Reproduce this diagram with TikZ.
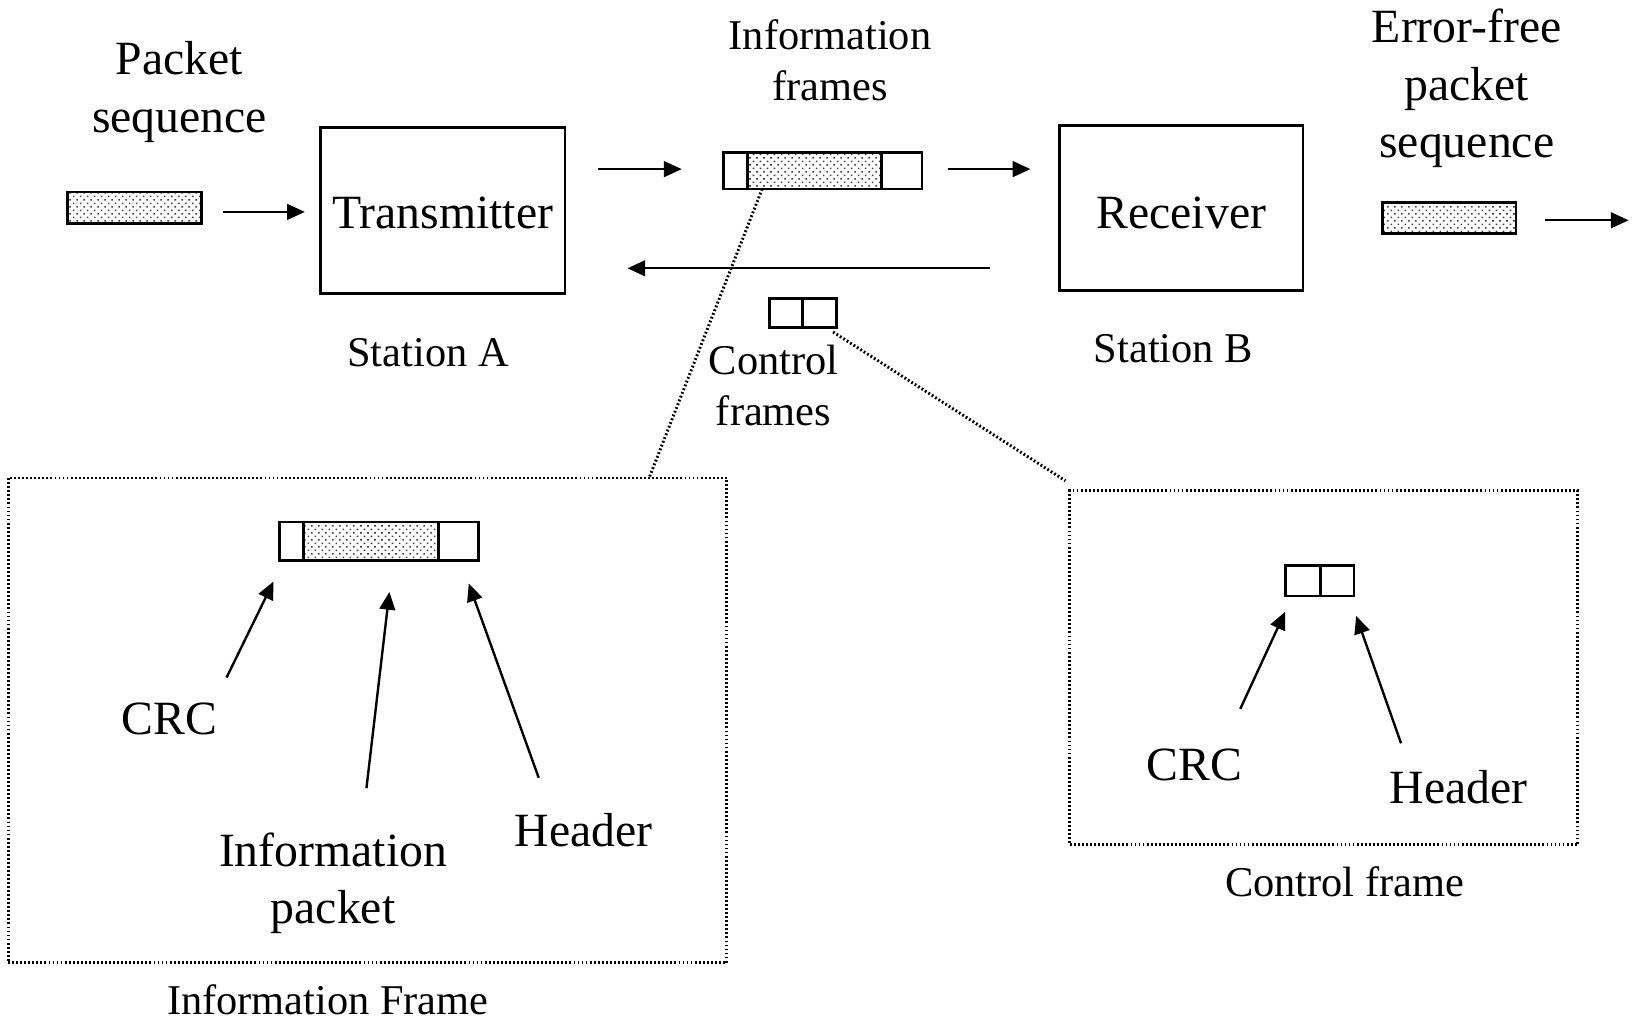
\documentclass[tikz,border=0pt]{standalone}
\usepackage{fontspec}
\setmainfont{Liberation Serif}
\usetikzlibrary{arrows.meta,patterns.meta,calc}
\begin{document}
\begin{tikzpicture}[x=0.01cm,y=-0.01cm,
  big/.style={font=\fontsize{13}{15.65}\selectfont, align=center, inner sep=0pt},
  small/.style={font=\fontsize{11.55}{13.9}\selectfont, align=center, inner sep=0pt},
  blk/.style={draw, line width=0.75pt, inner sep=0pt, outer sep=0pt},
  shade/.style={pattern={Dots[distance=1.35pt,radius=0.3pt,angle=45]}, pattern color=black!75},
  arr/.style={line width=0.65pt, -{Triangle[length=0.17cm,width=0.15cm]}},
  dotl/.style={line width=0.8pt, dash pattern=on 0.5pt off 0.6pt},
]
\useasboundingbox (0,0) rectangle (1568,977);

% ---- top row ----
\node[big] (lps) at (172,88) {Packet\\sequence};
\node[blk, shade, minimum width=1.28cm, minimum height=0.30cm] (pin) at (129,199) {};
\coordinate (a1s) at (214,203);
\coordinate (a1e) at (292,203);
\draw[arr] (a1s) -- (a1e);

\node[blk, big, minimum width=2.34cm, minimum height=1.59cm, text height=0.36cm] (tx) at (424,201.5) {Transmitter};
\node[small] (sta) at (410,338) {Station A};

\coordinate (a2s) at (573,162);
\coordinate (a2e) at (653,162);
\draw[arr] (a2s) -- (a2e);

\node[small] (ifl) at (795,58) {Information\\frames};
\node[blk, minimum width=1.90cm, minimum height=0.35cm] (if) at (788,163.5) {};
\node[blk, shade, minimum width=1.28cm, minimum height=0.35cm] (ifp) at (780,163.5) {};

\coordinate (a3s) at (908,162);
\coordinate (a3e) at (987,162);
\draw[arr] (a3s) -- (a3e);

\node[blk, big, minimum width=2.33cm, minimum height=1.58cm, text height=0.40cm] (rx) at (1131.5,199) {Receiver};
\node[small] (stb) at (1124,334) {Station B};

\node[big] (rps) at (1405,85) {Error-free\\packet\\sequence};
\node[blk, shade, minimum width=1.28cm, minimum height=0.30cm] (pout) at (1388,209) {};
\coordinate (a4s) at (1480,211);
\coordinate (a4e) at (1560,211);
\draw[arr] (a4s) -- (a4e);

% back channel
\coordinate (bs) at (948,257);
\coordinate (be) at (601,257);
\draw[arr] (bs) -- (be);
\node[blk, minimum width=0.32cm, minimum height=0.28cm] (c1) at (753,300) {};
\node[blk, minimum width=0.32cm, minimum height=0.28cm] (c2) at (785,300) {};
\node[small] (cfl) at (741,369) {Control\\frames};

% ---- information frame detail ----
\node[draw, dotl, minimum width=6.88cm, minimum height=4.64cm, inner sep=0pt] (ibox) at (352,690) {};
\node[small] (ibl) at (314,958) {Information Frame};
\draw[dotl] ($(ifp.south west)!0.11!(ifp.south east)$) -- ($(ibox.north west)!0.891!(ibox.north east)$);

\node[blk, minimum width=1.90cm, minimum height=0.37cm] (bf) at (363,518.5) {};
\node[blk, shade, minimum width=1.29cm, minimum height=0.37cm] (bfp) at (355.5,518.5) {};

\node[big] (crc1) at (162,689) {CRC};
\node[big] (ipk) at (319,846) {Information\\packet};
\node[big] (hd1) at (559,795) {Header};
\coordinate (k1s) at (217,649);
\coordinate (k1e) at (262,557);
\coordinate (k2s) at (351,755);
\coordinate (k2e) at (373,567);
\coordinate (k3s) at (516,745);
\coordinate (k3e) at (449,559);
\draw[arr] (k1s) -- (k1e);
\draw[arr] (k2s) -- (k2e);
\draw[arr] (k3s) -- (k3e);

% ---- control frame detail ----
\node[draw, dotl, minimum width=4.86cm, minimum height=3.39cm, inner sep=0pt] (cbox) at (1268,639.5) {};
\node[small] (cbl) at (1288,845) {Control frame};
\draw[dotl] ($(c2.south east)+(-3,4)$) -- ($(cbox.north west)+(-3,-8)$);

\node[blk, minimum width=0.34cm, minimum height=0.29cm] (c3) at (1248,556.5) {};
\node[blk, minimum width=0.32cm, minimum height=0.29cm] (c4) at (1281,556.5) {};

\node[big] (crc2) at (1144,733) {CRC};
\node[big] (hd2) at (1397,754) {Header};
\coordinate (m1s) at (1188,679);
\coordinate (m1e) at (1231,586);
\coordinate (m2s) at (1342,712);
\coordinate (m2e) at (1299,590);
\draw[arr] (m1s) -- (m1e);
\draw[arr] (m2s) -- (m2e);
\end{tikzpicture}
\end{document}
